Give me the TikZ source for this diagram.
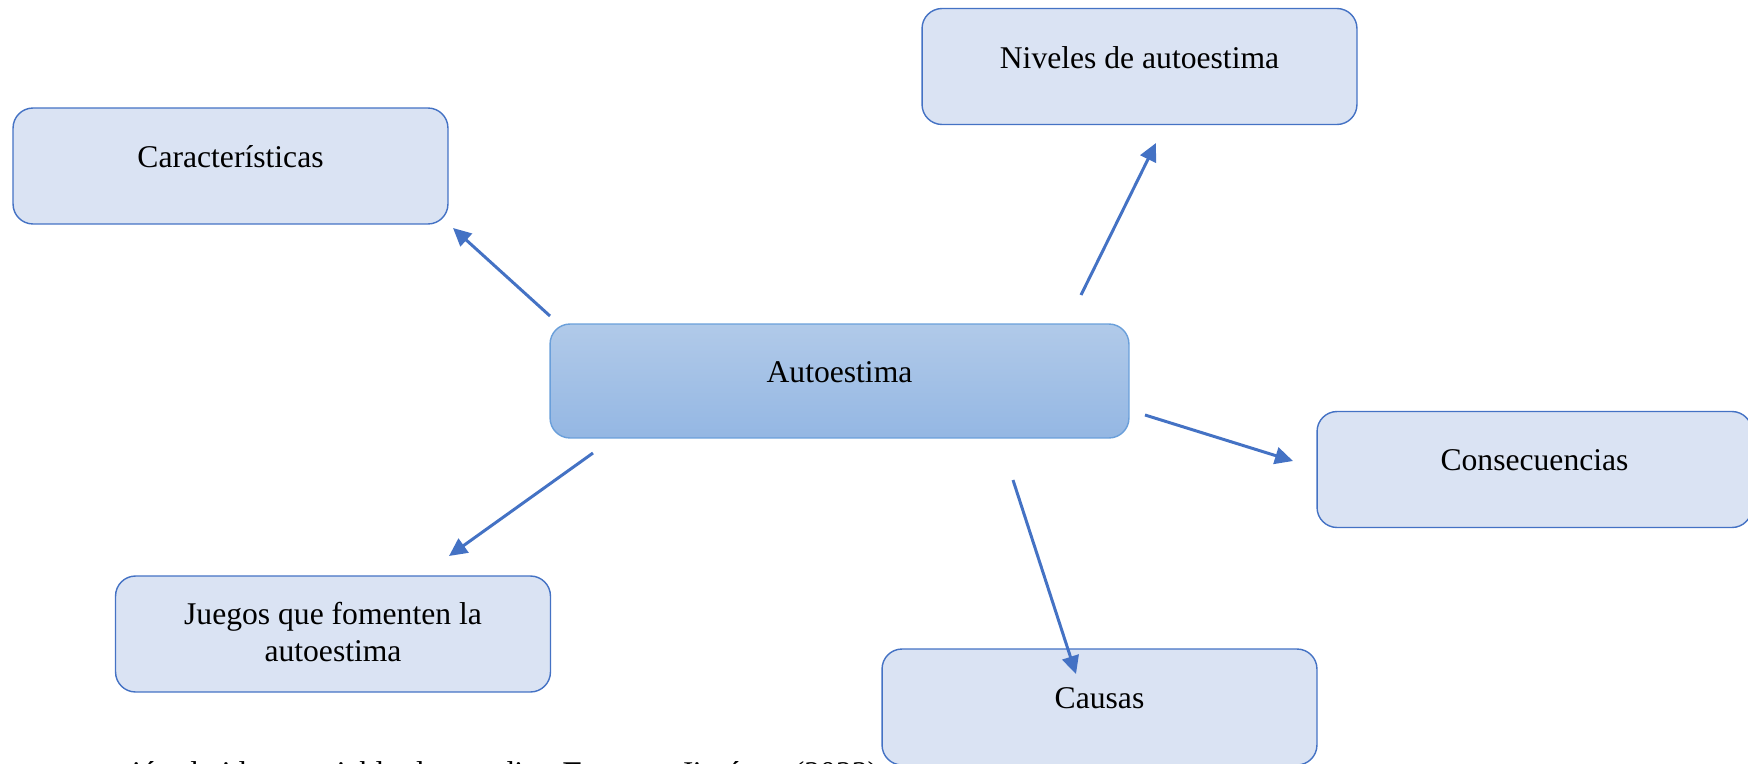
\documentclass[tikz,border=0pt]{standalone}
\usepackage{fontspec}
\setmainfont{Liberation Serif}
\usetikzlibrary{arrows.meta}
\definecolor{boxfill}{HTML}{DAE3F3}
\definecolor{boxline}{HTML}{4472C4}
\definecolor{autotop}{HTML}{B1CAE9}
\definecolor{autobot}{HTML}{94B7E3}
\definecolor{autoline}{HTML}{6A9FDA}

\begin{document}
\begin{tikzpicture}[x=0.02cm,y=-0.02cm,
    box/.style={draw=boxline, fill=boxfill, line width=0.8pt, rounded corners=0.4cm,
        minimum width=8.7cm, minimum height=2.32cm},
    mainbox/.style={draw=autoline, top color=autotop, bottom color=autobot, line width=0.8pt,
        rounded corners=0.4cm, minimum width=11.58cm, minimum height=2.28cm},
    txt/.style={font=\fontsize{18}{21.6}\selectfont, align=center, inner sep=0pt},
    link/.style={draw=boxline, line width=1.7pt, -{Triangle[length=0.36cm,width=0.34cm]}}]
        \useasboundingbox (0,0) rectangle (1748,764);
        \clip (0,0) rectangle (1748,764);
        % pie de figura (cortado abajo)
        \node[txt, anchor=base west] (pie) at (88,783) {\makebox[15.8cm][s]{nación de ideas variable de estudio. \textbf{Fuente:} Jiménez (2023)}};
        % cajas
        \node[mainbox] (auto) at (839.5,381) {};
        \node[txt] (autotxt) at (839.5,372) {Autoestima};
        \node[box] (carac) at (230.5,166) {};
        \node[txt] (caractxt) at (230.5,157) {Características};
        \node[box] (niveles) at (1139.5,66.5) {};
        \node[txt] (nivelestxt) at (1139.5,57.5) {Niveles de autoestima};
        \node[box] (conse) at (1534.5,469.5) {};
        \node[txt] (consetxt) at (1534.5,460.5) {Consecuencias};
        \node[box] (juegos) at (333,634) {};
        \node[txt] (juegostxt) at (333,632) {Juegos que fomenten la\\autoestima};
        \node[box] (causas) at (1099.5,707) {};
        \node[txt] (causastxt) at (1099.5,698) {Causas};
        % extremos de las flechas
        \coordinate (a1) at (550,316);  \coordinate (b1) at (453,228);
        \coordinate (a2) at (1081,295); \coordinate (b2) at (1156,143);
        \coordinate (a3) at (1145,415); \coordinate (b3) at (1293,461);
        \coordinate (a4) at (1013,480); \coordinate (b4) at (1076,674);
        \coordinate (a5) at (593,453);  \coordinate (b5) at (449,556);
        \draw[link] (a1) -- (b1);
        \draw[link] (a2) -- (b2);
        \draw[link] (a3) -- (b3);
        \draw[link] (a4) -- (b4);
        \draw[link] (a5) -- (b5);
\end{tikzpicture}
\end{document}
